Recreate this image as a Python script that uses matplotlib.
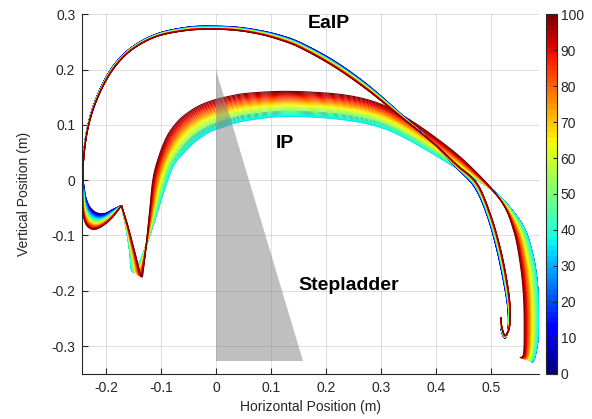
import numpy as np
import matplotlib
matplotlib.use("Agg")
import matplotlib.pyplot as plt
from matplotlib.collections import LineCollection
from matplotlib.colors import Normalize
from matplotlib.patches import Polygon

# ---------------- data ----------------
# EaIP family: key curves for parameter 0 (blue) and 100 (dark red)
eaip_levels = [0, 100]
eaip_0 = [(-0.172, -0.0457), (-0.188, -0.053), (-0.202, -0.060), (-0.217, -0.059),
          (-0.229, -0.049), (-0.2365, -0.032), (-0.240, -0.012), (-0.2425, 0.005),
          (-0.2425, 0.027), (-0.2365, 0.081), (-0.2245, 0.130), (-0.2035, 0.180),
          (-0.179, 0.2165), (-0.148, 0.244), (-0.105, 0.2655), (-0.050, 0.277),
          (-0.002, 0.2785), (0.040, 0.2765), (0.080, 0.2705), (0.115, 0.2625),
          (0.1527, 0.2490), (0.2133, 0.2165),
          (0.274, 0.1735), (0.3345, 0.121), (0.395, 0.066), (0.4376, 0.022),
          (0.470, -0.013), (0.492, -0.062), (0.509, -0.1205), (0.522, -0.181),
          (0.530, -0.2294), (0.531, -0.2657), (0.5255, -0.2855), (0.519, -0.2747),
          (0.5175, -0.2565)]
eaip_100 = [(-0.172, -0.0457), (-0.190, -0.069), (-0.2085, -0.0842), (-0.2236, -0.089),
            (-0.2358, -0.081), (-0.2418, -0.060), (-0.2431, -0.030), (-0.2418, 0.0005),
            (-0.2418, 0.0247), (-0.2358, 0.079), (-0.2236, 0.1276), (-0.2024, 0.176),
            (-0.178, 0.2123), (-0.1478, 0.2396), (-0.1055, 0.2606), (-0.0509, 0.271),
            (-0.0024, 0.2728), (0.040, 0.2705), (0.080, 0.2638), (0.115, 0.2541),
            (0.1527, 0.2396), (0.2133, 0.206),
            (0.274, 0.164), (0.3345, 0.1154), (0.395, 0.067), (0.4376, 0.0277),
            (0.474, -0.0054), (0.498, -0.060), (0.516, -0.1205), (0.5285, -0.181),
            (0.5345, -0.2294), (0.5333, -0.2657), (0.5255, -0.2808), (0.5195, -0.2657),
            (0.5176, -0.2475)]

# IP family: key curves for parameter 0 (blue), 35 (cyan) and 100 (dark red)
ip_levels = [0, 35, 100]
ip_0 = [(-0.172, -0.0457), (-0.162, -0.089), (-0.155, -0.130), (-0.150, -0.166),
        (-0.138, -0.152), (-0.125, -0.112), (-0.112, -0.065), (-0.100, -0.019),
        (-0.084, 0.027), (-0.064, 0.056), (-0.046, 0.076), (-0.028, 0.089),
        (-0.012, 0.098), (0.007, 0.105), (0.029, 0.112), (0.056, 0.118),
        (0.116, 0.124), (0.177, 0.123), (0.2376, 0.1175), (0.290, 0.1066),
        (0.331, 0.0905), (0.383, 0.061), (0.442, 0.021), (0.505, -0.020),
        (0.553, -0.075), (0.573, -0.125), (0.584, -0.190), (0.586, -0.2717),
        (0.580, -0.317), (0.574, -0.329)]
ip_35 = [(-0.172, -0.0457), (-0.163, -0.090), (-0.157, -0.130), (-0.153, -0.164),
         (-0.140, -0.150), (-0.125, -0.112), (-0.110, -0.068), (-0.096, -0.024),
         (-0.078, 0.025), (-0.058, 0.050), (-0.040, 0.068), (-0.022, 0.081),
         (-0.008, 0.089), (0.010, 0.095), (0.030, 0.102), (0.056, 0.108),
         (0.116, 0.1150), (0.177, 0.1140), (0.2376, 0.1085), (0.290, 0.098),
         (0.330, 0.083), (0.380, 0.056), (0.440, 0.020), (0.505, -0.020),
         (0.553, -0.075), (0.573, -0.125), (0.584, -0.190), (0.586, -0.2717),
         (0.580, -0.317), (0.574, -0.329)]
ip_100 = [(-0.172, -0.0457), (-0.160, -0.084), (-0.1478, -0.1296), (-0.1358, -0.1737),
          (-0.132, -0.160), (-0.1267, -0.1143), (-0.1206, -0.054), (-0.115, 0.000),
          (-0.106, 0.037), (-0.090, 0.078), (-0.070, 0.106), (-0.050, 0.123),
          (-0.030, 0.135), (-0.005, 0.1445), (0.0255, 0.152), (0.056, 0.157),
          (0.116, 0.1605), (0.177, 0.159), (0.2376, 0.1535), (0.290, 0.141),
          (0.3345, 0.120), (0.395, 0.080), (0.4558, 0.031), (0.5164, -0.035),
          (0.5405, -0.090), (0.5527, -0.1506), (0.5588, -0.211), (0.560, -0.2717),
          (0.5588, -0.314), (0.552, -0.321)]

# stepladder triangle
ladder_x = [0.0, 0.0, 0.158]
ladder_y = [0.200, -0.327, -0.327]

param_values = np.arange(0, 100.01, 2.5)
cbar_ticks = [0, 10, 20, 30, 40, 50, 60, 70, 80, 90, 100]
x_ticks = [-0.2, -0.1, 0, 0.1, 0.2, 0.3, 0.4, 0.5]
y_ticks = [-0.3, -0.2, -0.1, 0, 0.1, 0.2, 0.3]

labels = {"EaIP": (0.2045, 0.2758), "IP": (0.1255, 0.0581), "Stepladder": (0.2418, -0.1978)}


# ---------------- helpers ----------------
def catmull(pts, sub=10):
    p = np.asarray(pts, float)
    ext = np.vstack([p[0], p, p[-1]])
    out = []
    t = np.linspace(0, 1, sub, endpoint=False)[:, None]
    for i in range(1, len(ext) - 2):
        p0, p1, p2, p3 = ext[i - 1], ext[i], ext[i + 1], ext[i + 2]
        seg = 0.5 * ((2 * p1) + (-p0 + p2) * t + (2 * p0 - 5 * p1 + 4 * p2 - p3) * t ** 2
                     + (-p0 + 3 * p1 - 3 * p2 + p3) * t ** 3)
        out.append(seg)
    out.append(p[-1][None, :])
    return np.vstack(out)


def curve_at(level, levels, keys):
    keys = [np.asarray(k, float) for k in keys]
    for i in range(len(levels) - 1):
        if levels[i] <= level <= levels[i + 1]:
            w = (level - levels[i]) / (levels[i + 1] - levels[i])
            return (1 - w) * keys[i] + w * keys[i + 1]
    return keys[-1]


# ---------------- figure ----------------
plt.rcParams['font.family'] = ['Liberation Sans', 'DejaVu Sans']
fig = plt.figure(figsize=(5.92, 4.19), dpi=100)
ax = fig.add_axes([0.1390, 0.1081, 0.7720, 0.8578])
cax = fig.add_axes([0.9215, 0.1081, 0.0186, 0.8578])

cmap = plt.get_cmap('jet', 64)
norm = Normalize(0, 100)

# grid
ax.set_axisbelow(True)
ax.grid(True, color=(0.15, 0.15, 0.15), alpha=0.15, linewidth=0.7)

segs, cols = [], []
for lv in param_values:
    segs.append(catmull(curve_at(lv, ip_levels, [ip_0, ip_35, ip_100])))
    cols.append(cmap(norm(lv)))
ax.add_collection(LineCollection(segs, colors=cols, linewidths=0.8, zorder=2))

segs, cols = [], []
for lv in param_values:
    segs.append(catmull(curve_at(lv, eaip_levels, [eaip_0, eaip_100])))
    cols.append(cmap(norm(lv)))
ax.add_collection(LineCollection(segs, colors=cols, linewidths=0.8, zorder=2))

ax.add_patch(Polygon(np.column_stack([ladder_x, ladder_y]), closed=True,
                     facecolor=(0.5, 0.5, 0.5), alpha=0.5, edgecolor='none', zorder=3))

for txt, (tx, ty) in labels.items():
    ax.text(tx, ty, txt, ha='center', va='baseline', fontsize=14, fontweight='bold',
            color='black', zorder=4)

ax.set_xlim(-0.2432, 0.5875)
ax.set_ylim(-0.35, 0.30)
ax.set_xticks(x_ticks)
ax.set_yticks(y_ticks)
ax.set_xticklabels(['-0.2', '-0.1', '0', '0.1', '0.2', '0.3', '0.4', '0.5'])
ax.set_yticklabels(['-0.3', '-0.2', '-0.1', '0', '0.1', '0.2', '0.3'])
dark = (0.15, 0.15, 0.15)
for s in ['top', 'right']:
    ax.spines[s].set_visible(False)
for s in ['left', 'bottom']:
    ax.spines[s].set_color(dark)
    ax.spines[s].set_linewidth(0.8)
ax.tick_params(direction='in', length=4, width=0.8, colors=dark, labelsize=10, pad=5)
ax.set_xlabel('Horizontal Position (m)', fontsize=10, color=dark, labelpad=4)
ax.set_ylabel('Vertical Position (m)', fontsize=10, color=dark, labelpad=15)

sm = matplotlib.cm.ScalarMappable(norm=norm, cmap=cmap)
cb = fig.colorbar(sm, cax=cax, ticks=cbar_ticks)
cb.outline.set_edgecolor(dark)
cb.outline.set_linewidth(0.8)
cax.tick_params(direction='in', length=3, width=0.8, colors=dark, labelsize=10, pad=3)

fig.savefig('out.png', dpi=100)
